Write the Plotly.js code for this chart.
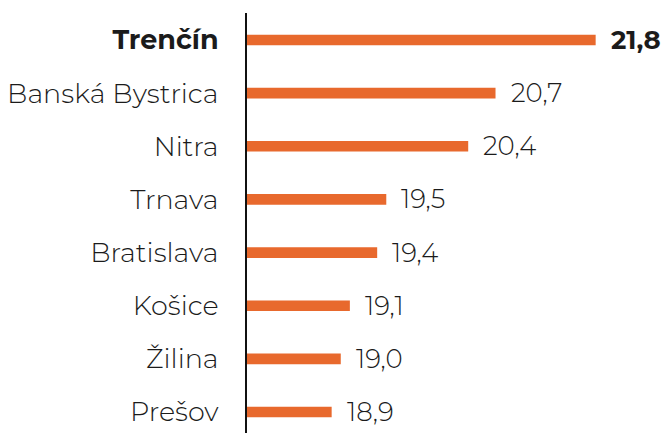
<!DOCTYPE html>
<html>
<head>
<meta charset="utf-8">
<script src="https://cdn.plot.ly/plotly-3.0.1.min.js"></script>
<style>html,body{margin:0;padding:0;background:#fff}#chart{width:663px;height:433px}</style>
</head>
<body>
<div id="chart"></div>
<script>
const regions = ["Trenčín", "Banská Bystrica", "Nitra", "Trnava", "Bratislava", "Košice", "Žilina", "Prešov"];
const values = [21.8, 20.7, 20.4, 19.5, 19.4, 19.1, 19.0, 18.9];
const highlight = "Trenčín";

const fmt = v => v.toFixed(1).replace(".", ",");
const FONT = "Montserrat, 'Open Sans', 'DejaVu Sans', sans-serif";
const idx = regions.map((_, i) => i);

const trace = {
  type: "bar",
  orientation: "h",
  y: idx,
  x: values,
  width: 0.2,
  marker: {color: "#E8692D"},
  hoverinfo: "skip"
};

const annotations = regions.map((r, i) => ({
  x: values[i], y: i, xref: "x", yref: "y",
  text: r === highlight ? "<b>" + fmt(values[i]) + "</b>" : fmt(values[i]),
  showarrow: false, xanchor: "left", yanchor: "middle", xshift: 13,
  font: {family: FONT, size: 26, weight: 300, color: "#1b1b1b"}
}));

const layout = {
  width: 663, height: 433,
  margin: {l: 247, r: 20, t: 13, b: 0, pad: 0},
  paper_bgcolor: "#fff", plot_bgcolor: "#fff",
  showlegend: false,
  xaxis: {range: [17.97, 22.32], visible: false, fixedrange: true},
  yaxis: {
    range: [7.395, -0.508],
    tickmode: "array",
    tickvals: idx,
    ticktext: regions.map(r => r === highlight ? "<b>" + r + "</b>" : r),
    showgrid: false, zeroline: false,
    showline: true, linecolor: "#111", linewidth: 2,
    ticks: "", ticklabelstandoff: 21,
    tickfont: {family: FONT, size: 27, weight: 300, color: "#1b1b1b"}
  },
  annotations: annotations
};

Plotly.newPlot("chart", [trace], layout, {displayModeBar: false, staticPlot: true});
</script>
</body>
</html>
